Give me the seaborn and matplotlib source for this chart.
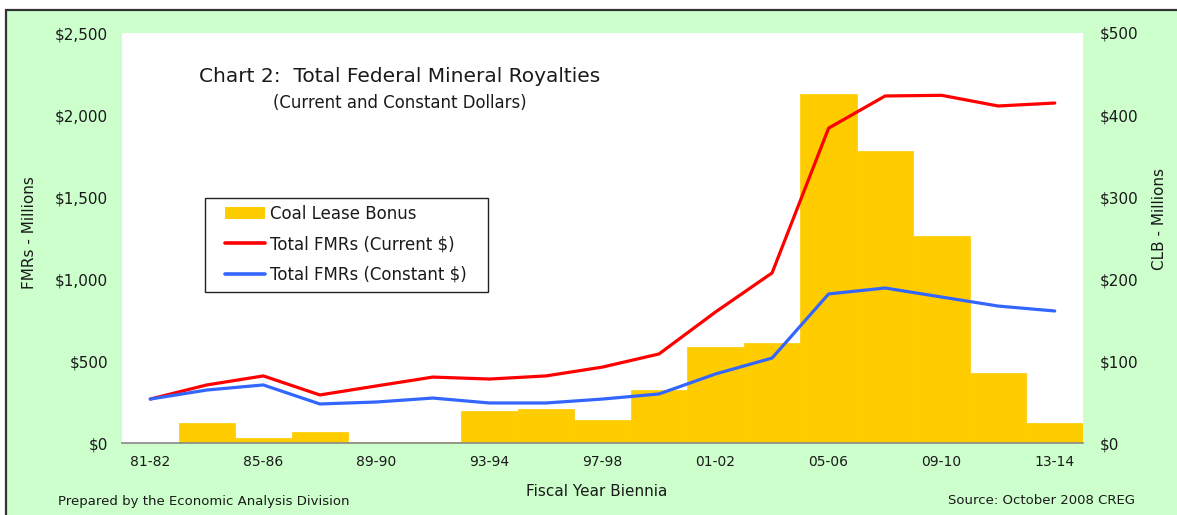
import numpy as np
import matplotlib
matplotlib.use("Agg")
import matplotlib.pyplot as plt
from matplotlib.patches import Rectangle, Patch
from matplotlib.lines import Line2D
from matplotlib.ticker import FuncFormatter
import seaborn as sns

# biennia and values
biennia = ["81-82", "83-84", "85-86", "87-88", "89-90", "91-92", "93-94", "95-96", "97-98",
           "99-00", "01-02", "03-04", "05-06", "07-08", "09-10", "11-12", "13-14"]
coal_lease_bonus = [0, 24, 6, 13, 1, 1, 39, 41, 28, 65, 117, 122, 426, 356, 252, 85, 24]
fmr_current = [268, 354, 409, 293, 348, 402, 390, 409, 463, 543, 799, 1037, 1920, 2116, 2120, 2055, 2073]
fmr_constant = [268, 323, 354, 238, 250, 274, 244, 244, 268, 299, 421, 518, 909, 945, 890, 835, 805]
tick_labels = biennia[::2]

gold = "#FFCC00"
red = "#FF0000"
blue = "#3366FF"
green_bg = "#CCFFCC"
txt = "#1a1a1a"

sns.set_style("white")
plt.rcParams["font.family"] = ["DejaVu Sans"]

W, H = 1177, 515
fig = plt.figure(figsize=(W / 100, H / 100), dpi=100)
fig.patch.set_facecolor("white")
fig.patches.append(Rectangle((6 / W, -0.1), 1.2, 1 - 10 / H + 0.1, transform=fig.transFigure,
                             facecolor=green_bg, edgecolor="#333333", linewidth=1.6, zorder=-5))

ax = fig.add_axes([122 / W, 1 - 443 / H, (1083 - 122) / W, (443 - 33) / H])
ax2 = ax.twinx()

# bars on the right axis (CLB)
sns.barplot(x=biennia, y=coal_lease_bonus, color=gold, saturation=1, width=1.0, ax=ax2,
            edgecolor=gold, linewidth=0.5)
ax2.set_ylim(0, 500)
ax2.set_yticks(range(0, 501, 100))
ax2.yaxis.set_major_formatter(FuncFormatter(lambda v, p: f"${v:,.0f}"))
ax2.patch.set_visible(True)
ax2.set_facecolor("white")

# lines on the left axis (FMRs)
sns.lineplot(x=biennia, y=fmr_current, color=red, linewidth=2.3, ax=ax, sort=False)
sns.lineplot(x=biennia, y=fmr_constant, color=blue, linewidth=2.3, ax=ax, sort=False)
ax.set_ylim(0, 2500)
ax.set_yticks(range(0, 2501, 500))
ax.yaxis.set_major_formatter(FuncFormatter(lambda v, p: f"${v:,.0f}"))
ax.set_xlim(-0.5, len(biennia) - 0.5)
ax.set_xticks(range(0, len(biennia), 2))
ax.set_xticklabels(tick_labels)

ax.set_zorder(ax2.get_zorder() + 1)
ax.patch.set_visible(False)

for a in (ax, ax2):
    for s in a.spines.values():
        s.set_visible(False)
    a.tick_params(length=0, labelsize=11, colors=txt)
    a.set_xlabel("")
    a.set_ylabel("")
ax.spines["bottom"].set_visible(True)
ax.spines["bottom"].set_color("#888888")
ax.spines["bottom"].set_linewidth(1.2)
ax.spines["bottom"].set_zorder(3)
ax.tick_params(axis="y", pad=10)
ax2.tick_params(axis="y", pad=12)
ax.tick_params(axis="x", labelsize=10, pad=9)

# legend box drawn separately, entries placed inside it
ax.add_patch(Rectangle((205 / W, 1 - 292 / H), (488 - 205) / W, (292 - 198) / H,
                       transform=fig.transFigure, facecolor="white", clip_on=False,
                       edgecolor="#222222", linewidth=1.0, zorder=4))
handles = [Patch(facecolor=gold, edgecolor="none"),
           Line2D([], [], color=red, linewidth=2.6),
           Line2D([], [], color=blue, linewidth=2.6)]
labels = ["Coal Lease Bonus", "Total FMRs (Current $)", "Total FMRs (Constant $)"]
leg = ax.legend(handles, labels, loc="upper left", bbox_to_anchor=(220 / W, 1 - 200 / H),
                bbox_transform=fig.transFigure, fontsize=12, frameon=False,
                borderpad=0.3, labelspacing=0.74, handlelength=2.4,
                handletextpad=0.3, borderaxespad=0)
leg.set_zorder(6)
for t in leg.get_texts():
    t.set_color(txt)

fig.text(199 / W, 1 - 77 / H, "Chart 2:  Total Federal Mineral Royalties", fontsize=14.5,
         ha="left", va="center", color=txt)
fig.text(273 / W, 1 - 103 / H, "(Current and Constant Dollars)", fontsize=11.9,
         ha="left", va="center", color=txt)
fig.text(30 / W, 1 - 233 / H, "FMRs - Millions", rotation=90, fontsize=11,
         ha="center", va="center", color=txt)
fig.text(1160 / W, 1 - 219 / H, "CLB - Millions", rotation=90, fontsize=11,
         ha="center", va="center", color=txt)
fig.text(597 / W, 1 - 492 / H, "Fiscal Year Biennia", fontsize=11,
         ha="center", va="center", color=txt)
fig.text(58 / W, 1 - 502 / H, "Prepared by the Economic Analysis Division", fontsize=9.5,
         ha="left", va="center", color=txt)
fig.text(1135 / W, 1 - 500 / H, "Source: October 2008 CREG", fontsize=9.5,
         ha="right", va="center", color=txt)

fig.savefig("out.png", dpi=100, facecolor=fig.get_facecolor())
